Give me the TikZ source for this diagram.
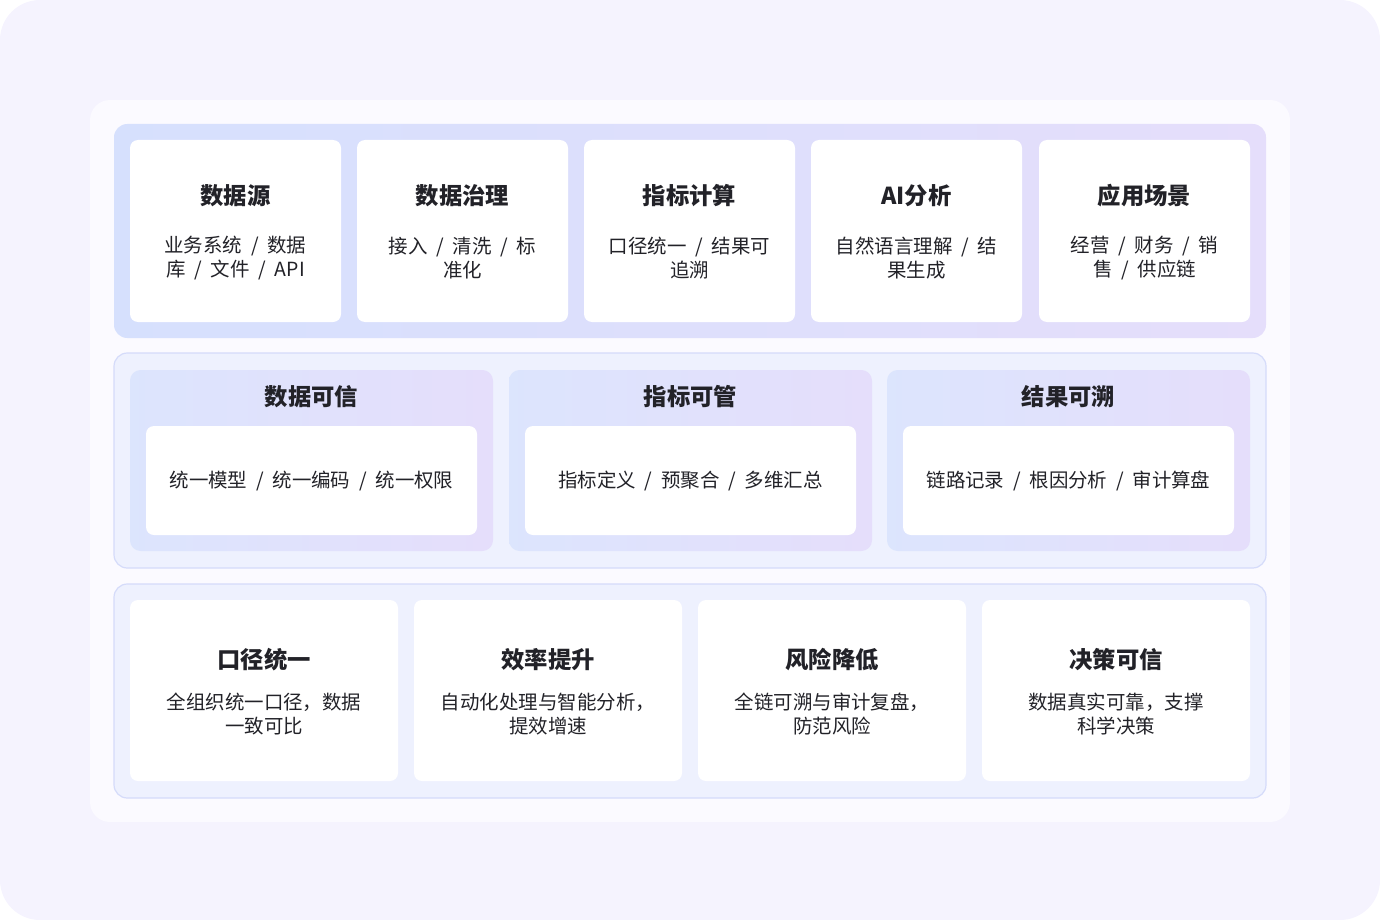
\documentclass[tikz,border=0pt]{standalone}
\usepackage{fontspec}
\setmainfont{Noto Sans CJK SC}
\usetikzlibrary{positioning}
\definecolor{pagebg}{HTML}{F5F3FE}
\definecolor{panelbg}{HTML}{FBFAFF}
\definecolor{bandl}{HTML}{D6E0FD}
\definecolor{bandr}{HTML}{E5DEFB}
\definecolor{softbg}{HTML}{EEF1FE}
\definecolor{softline}{HTML}{D5DBFA}
\definecolor{txt}{HTML}{222228}
\newcommand*{\sep}{\hspace{0.45em}/\hspace{0.45em}}
\tikzset{
  band/.style={rounded corners=10pt, left color=bandl, right color=bandr, draw=none},
  softband/.style={rounded corners=10pt, fill=softbg, draw=softline, line width=0.9pt},
  card/.style={rounded corners=6pt, fill=white, draw=none},
  pillar/.style={rounded corners=8pt, left color=bandl!85, right color=bandr, draw=none},
  ttl/.style={font=\fontsize{17.5}{20}\selectfont\bfseries, text=txt},
  body/.style={font=\fontsize{14.6}{18}\selectfont, text=txt, align=center}
}
\begin{document}
\begin{tikzpicture}[x=0.75pt, y=-0.75pt]
  \useasboundingbox (0,0) rectangle (1380,920);
  \fill[pagebg, rounded corners=30pt] (0,0) rectangle (1380,920);
  \fill[panelbg, rounded corners=15pt] (90,100) rectangle (1290,822);

  % Row 1: pipeline
  \path[band] (114,124) rectangle (1266,338);
  \foreach \x/\t/\a/\b [count=\i] in {130/数据源/{业务系统\sep 数据}/{库\sep 文件\sep API},
      357/数据治理/{接入\sep 清洗\sep 标}/准化,
      584/指标计算/{口径统一\sep 结果可}/追溯,
      811/AI分析/{自然语言理解\sep 结}/果生成,
      1039/应用场景/{经营\sep 财务\sep 销}/{售\sep 供应链}} {
    \path[card] (\x,140) rectangle ++(211,182);
    \node (step title \i) [ttl] at (\x+105.5,196) {\t};
    \node (step body \i) [body] at (\x+105.5,258) {\a\\\b};
  }

  % Row 2: pillars
  \path[softband] (114,353) rectangle (1266,568);
  \foreach \x/\t/\a [count=\i] in {130/数据可信/{统一模型\sep 统一编码\sep 统一权限},
      509/指标可管/{指标定义\sep 预聚合\sep 多维汇总},
      887/结果可溯/{链路记录\sep 根因分析\sep 审计算盘}} {
    \path[pillar] (\x,370) rectangle ++(363,181);
    \node (pillar title \i) [ttl] at (\x+181.5,397) {\t};
    \path[card] (\x+16,426) rectangle ++(331,109);
    \node (pillar body \i) [body] at (\x+181.5,481) {\a};
  }

  % Row 3: outcomes
  \path[softband] (114,584) rectangle (1266,798);
  \foreach \x/\t/\a/\b [count=\i] in {130/口径统一/全组织统一口径，数据/一致可比,
      414/效率提升/自动化处理与智能分析，/提效增速,
      698/风险降低/全链可溯与审计复盘，/防范风险,
      982/决策可信/数据真实可靠，支撑/科学决策} {
    \path[card] (\x,600) rectangle ++(268,181);
    \node (gain title \i) [ttl] at (\x+134,660) {\t};
    \node (gain body \i) [body] at (\x+134,714) {\a\\\b};
  }
\end{tikzpicture}
\end{document}
